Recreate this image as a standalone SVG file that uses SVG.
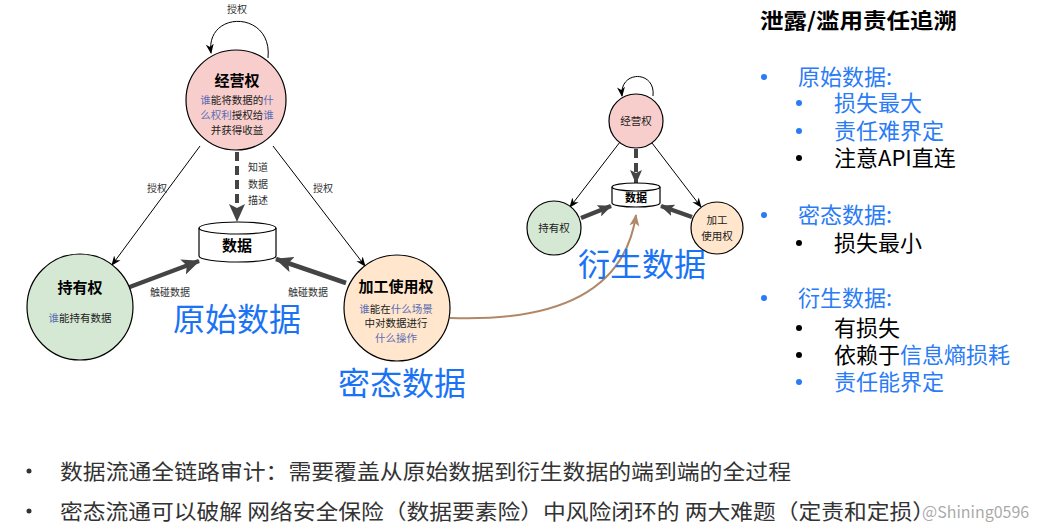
<svg xmlns="http://www.w3.org/2000/svg" width="1046" height="529" viewBox="0 0 1046 529">
<style>
text{font-family:"Noto Sans CJK SC","Noto Sans",sans-serif;}
.lbl{font-size:10px;fill:#333;text-anchor:middle;}
.ttl{font-size:15px;font-weight:bold;fill:#000;text-anchor:middle;}
.sm{font-size:10.5px;fill:#222;text-anchor:middle;}
.bl{fill:#5b6db3;}
.big{font-size:32px;fill:#1a73f5;text-anchor:middle;}
.rt{font-size:22px;fill:#000;}
.rb{fill:#2a7bf5;}
.bot{font-size:21px;fill:#333;}
.thin{fill:none;stroke:#000;stroke-width:1;}
.thick{fill:none;stroke:#444;stroke-width:4.5;}
.dash{fill:none;stroke:#444;stroke-width:4;stroke-dasharray:9 5;}
.node{stroke:#000;stroke-width:1.2;}
.db{fill:#2a7bf5;}
.dk{fill:#000;}
</style>
<defs>
<marker id="ah" markerUnits="userSpaceOnUse" markerWidth="10" markerHeight="10" viewBox="0 0 10 10" refX="9" refY="5" orient="auto"><path d="M0,1 L10,5 L0,9 L3,5 Z" fill="#000"/></marker>
<marker id="ahT" markerUnits="userSpaceOnUse" markerWidth="18" markerHeight="16" viewBox="0 0 18 16" refX="17" refY="8" orient="auto"><path d="M0,0 L18,8 L0,16 L4,8 Z" fill="#444"/></marker>
<marker id="ahS" markerUnits="userSpaceOnUse" markerWidth="14" markerHeight="12" viewBox="0 0 14 12" refX="13" refY="6" orient="auto"><path d="M0,0 L14,6 L0,12 L3,6 Z" fill="#444"/></marker>
<marker id="ahB" markerUnits="userSpaceOnUse" markerWidth="12" markerHeight="12" viewBox="0 0 12 12" refX="11" refY="6" orient="auto"><path d="M0,1 L12,6 L0,11 L3,6 Z" fill="#b08868"/></marker>
</defs>
<rect width="1046" height="529" fill="#fff"/>

<g id="connectors">
  <path class="thin" d="M268 58 C273 10 205 10 211 53" marker-end="url(#ah)"/>
  <line class="thin" x1="200" y1="146" x2="112" y2="265" marker-end="url(#ah)"/>
  <line class="thin" x1="273" y1="146" x2="365" y2="266" marker-end="url(#ah)"/>
  <line class="dash" x1="237" y1="152" x2="237" y2="221" marker-end="url(#ahT)"/>
  <line class="thick" x1="127" y1="288" x2="199" y2="261" marker-end="url(#ahT)"/>
  <line class="thick" x1="346" y1="283" x2="276" y2="259" marker-end="url(#ahT)"/>
  <path d="M450 318 C560 322 625 290 636 215" fill="none" stroke="#b08868" stroke-width="2" marker-end="url(#ahB)"/>
  <path class="thin" d="M653 96 C656 70 619 70 622 96" marker-end="url(#ah)"/>
  <line class="thin" x1="620" y1="142" x2="570" y2="207" marker-end="url(#ah)"/>
  <line class="thin" x1="652" y1="143" x2="701" y2="207" marker-end="url(#ah)"/>
  <line class="dash" x1="636" y1="149" x2="636" y2="183" stroke-width="3" marker-end="url(#ahS)"/>
  <line class="thick" x1="581" y1="218" x2="611" y2="206" stroke-width="3.5" marker-end="url(#ahS)"/>
  <line class="thick" x1="692" y1="217" x2="661" y2="206" stroke-width="3.5" marker-end="url(#ahS)"/>
  <text class="lbl" x="237" y="13">授权</text>
  <text class="lbl" x="157" y="192">授权</text>
  <text class="lbl" x="323" y="192">授权</text>
  <text class="lbl" x="258" y="171">知道</text>
  <text class="lbl" x="258" y="188">数据</text>
  <text class="lbl" x="258" y="204">描述</text>
  <text class="lbl" x="170" y="296">触碰数据</text>
  <text class="lbl" x="308" y="296">触碰数据</text>
</g>

<g id="jingying">
  <circle class="node" cx="236" cy="100" r="50" fill="#f8cecc"/>
  <text class="ttl" x="237" y="86">经营权</text>
  <text class="sm" x="237" y="104"><tspan class="bl">谁</tspan>能将数据的<tspan class="bl">什</tspan></text>
  <text class="sm" x="237" y="119"><tspan class="bl">么权利</tspan>授权给<tspan class="bl">谁</tspan></text>
  <text class="sm" x="237" y="134">并获得收益</text>
</g>

<g id="data">
  <path class="node" d="M199 228 A38.5 6 0 0 1 276 228 V256 A38.5 6 0 0 1 199 256 Z" fill="#fff"/>
  <path class="node" d="M199 228 A38.5 6 0 0 0 276 228" fill="none"/>
  <text class="ttl" x="237" y="251">数据</text>
</g>

<g id="chiyou">
  <circle class="node" cx="80" cy="307" r="53" fill="#d5e8d4"/>
  <text class="ttl" x="80" y="293">持有权</text>
  <text class="sm" x="80" y="322"><tspan class="bl">谁</tspan>能持有数据</text>
</g>

<g id="jiagong">
  <circle class="node" cx="397" cy="308" r="53" fill="#ffe6cc"/>
  <text class="ttl" x="396" y="292">加工使用权</text>
  <text class="sm" x="396" y="313"><tspan class="bl">谁</tspan>能在<tspan class="bl">什么场景</tspan></text>
  <text class="sm" x="396" y="327">中对数据进行</text>
  <text class="sm" x="396" y="342"><tspan class="bl">什么操作</tspan></text>
</g>

<g id="labels-big">
  <text class="big" x="237" y="331">原始数据</text>
  <text class="big" x="402" y="395">密态数据</text>
  <text class="big" x="642" y="276">衍生数据</text>
</g>

<g id="s-jingying">
  <circle class="node" cx="636" cy="121" r="27" fill="#f8cecc"/>
  <text class="sm" x="636" y="125" font-size="11">经营权</text>
</g>
<g id="s-data">
  <path class="node" d="M612 187 A24 4 0 0 1 660 187 V203 A24 4 0 0 1 612 203 Z" fill="#fff"/>
  <path class="node" d="M612 187 A24 4 0 0 0 660 187" fill="none"/>
  <text x="636" y="202" font-size="11" font-weight="bold" text-anchor="middle">数据</text>
</g>
<g id="s-chiyou">
  <circle class="node" cx="554" cy="228" r="27" fill="#d5e8d4"/>
  <text class="sm" x="554" y="232" font-size="11">持有权</text>
</g>
<g id="s-jiagong">
  <circle class="node" cx="717" cy="228" r="26" fill="#ffe6cc"/>
  <text class="sm" x="717" y="224" font-size="11">加工</text>
  <text class="sm" x="717" y="240" font-size="11">使用权</text>
</g>

<g id="panel">
  <text x="760" y="28" font-size="21" font-weight="bold" fill="#000" textLength="197" lengthAdjust="spacingAndGlyphs">泄露/滥用责任追溯</text>
  <circle class="db" cx="764" cy="77" r="3"/>
  <circle class="db" cx="799" cy="103" r="3"/>
  <circle class="db" cx="799" cy="131" r="3"/>
  <circle class="dk" cx="799" cy="158" r="3"/>
  <circle class="db" cx="764" cy="215" r="3"/>
  <circle class="dk" cx="799" cy="243" r="3"/>
  <circle class="db" cx="764" cy="298" r="3"/>
  <circle class="dk" cx="799" cy="328" r="3"/>
  <circle class="dk" cx="799" cy="355" r="3"/>
  <circle class="db" cx="799" cy="382" r="3"/>
  <g class="rt">
    <text x="798" y="85" class="rb">原始数据:</text>
    <text x="834" y="111" class="rb">损失最大</text>
    <text x="834" y="139" class="rb">责任难界定</text>
    <text x="834" y="166">注意API直连</text>
    <text x="798" y="223" class="rb">密态数据:</text>
    <text x="834" y="251">损失最小</text>
    <text x="798" y="306" class="rb">衍生数据:</text>
    <text x="834" y="336">有损失</text>
    <text x="834" y="363">依赖于<tspan class="rb">信息熵损耗</tspan></text>
    <text x="834" y="390" class="rb">责任能界定</text>
  </g>
</g>

<g id="bottom">
  <circle cx="29" cy="471" r="2.5" fill="#333"/>
  <text x="60" y="479" class="bot" textLength="731" lengthAdjust="spacingAndGlyphs">数据流通全链路审计：需要覆盖从原始数据到衍生数据的端到端的全过程</text>
  <circle cx="29" cy="511" r="2.5" fill="#333"/>
  <text x="60" y="519" class="bot" textLength="875" lengthAdjust="spacingAndGlyphs">密态流通可以破解 网络安全保险（数据要素险）中风险闭环的 两大难题（定责和定损）</text>
  <text x="922" y="518" font-size="16" fill="#999" fill-opacity="0.85" font-family="Liberation Sans, sans-serif">@Shining0596</text>
</g>
</svg>
